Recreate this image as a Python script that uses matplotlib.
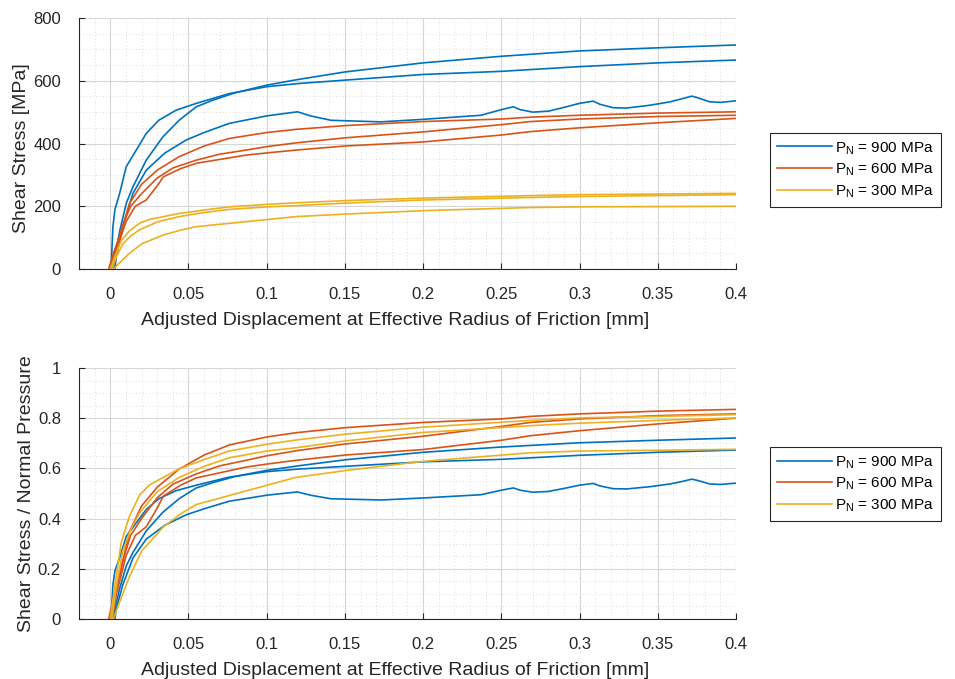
import matplotlib.pyplot as plt
from matplotlib.ticker import MultipleLocator, FormatStrFormatter

# curve data (x in mm, shear stress in MPa, ratio)
# P_N = 900 MPa
x_900a = [0.0005, 0.0017, 0.003, 0.006, 0.0102, 0.0166, 0.023, 0.031, 0.042, 0.055, 0.076, 0.1, 0.12, 0.15, 0.2, 0.25, 0.3, 0.35, 0.4]
tau_900a = [0, 135, 190, 241, 326, 379, 432, 474, 506, 528, 559, 581, 591, 602, 620, 630, 645, 657, 666]
mu_900a = [0, 0.136, 0.192, 0.243, 0.329, 0.383, 0.436, 0.479, 0.511, 0.533, 0.565, 0.587, 0.597, 0.608, 0.626, 0.636, 0.652, 0.664, 0.673]

x_900b = [0.002, 0.003, 0.006, 0.0102, 0.0145, 0.023, 0.0336, 0.044, 0.055, 0.0655, 0.08, 0.1, 0.12, 0.15, 0.2, 0.25, 0.3, 0.35, 0.4]
tau_900b = [0, 40, 120, 209, 262, 347, 421, 474, 517, 538, 562, 586, 604, 628, 657, 678, 695, 705, 714]
mu_900b = [0, 0.040, 0.121, 0.211, 0.265, 0.351, 0.425, 0.479, 0.522, 0.543, 0.568, 0.592, 0.610, 0.634, 0.664, 0.685, 0.702, 0.712, 0.721]

x_900c = [0.003, 0.0038, 0.008, 0.0145, 0.023, 0.035, 0.0485, 0.06, 0.076, 0.1, 0.115, 0.1197, 0.128, 0.141,
          0.173, 0.2, 0.237, 0.25, 0.2577, 0.262, 0.27, 0.28, 0.29, 0.30, 0.3087, 0.313, 0.3215, 0.33,
          0.345, 0.358, 0.365, 0.3718, 0.376, 0.383, 0.39, 0.4]
tau_900c = [0, 39, 135, 241, 315, 370, 411, 435, 464, 488, 498, 501, 488, 474,
            469, 477, 490, 508, 517, 508, 500, 503, 515, 528, 535, 525, 514, 513,
            522, 533, 542, 551, 545, 533, 531, 536]
mu_900c = [0, 0.039, 0.136, 0.243, 0.318, 0.374, 0.415, 0.439, 0.469, 0.493, 0.503, 0.506, 0.493, 0.479,
           0.474, 0.482, 0.495, 0.513, 0.522, 0.513, 0.505, 0.508, 0.520, 0.533, 0.540, 0.530, 0.519, 0.518,
           0.527, 0.538, 0.547, 0.557, 0.551, 0.538, 0.536, 0.541]

# P_N = 600 MPa
x_600a = [-0.001, 0.002, 0.006, 0.0123, 0.02, 0.03, 0.044, 0.06, 0.076, 0.1, 0.1187, 0.15, 0.2, 0.25, 0.2686, 0.3, 0.35, 0.4]
tau_600a = [0, 50, 103, 209, 270, 315, 358, 392, 416, 435, 445, 457, 470, 478, 484, 490, 497, 501]
mu_600a = [0, 0.083, 0.172, 0.348, 0.450, 0.525, 0.597, 0.653, 0.693, 0.725, 0.742, 0.762, 0.783, 0.797, 0.807, 0.817, 0.828, 0.835]

x_600b = [0.0, 0.003, 0.008, 0.013, 0.02, 0.03, 0.04, 0.055, 0.07, 0.0868, 0.1, 0.1187, 0.15, 0.2, 0.25, 0.2686, 0.3, 0.35, 0.4]
tau_600b = [0, 60, 140, 200, 240, 290, 322, 347, 366, 379, 390, 402, 418, 437, 460, 470, 478, 486, 490]
mu_600b = [0, 0.100, 0.233, 0.333, 0.400, 0.483, 0.537, 0.578, 0.610, 0.632, 0.650, 0.670, 0.697, 0.728, 0.767, 0.783, 0.797, 0.810, 0.817]

x_600c = [0.001, 0.004, 0.01, 0.016, 0.023, 0.03, 0.034, 0.045, 0.055, 0.0868, 0.1, 0.1187, 0.15, 0.2, 0.25, 0.2686, 0.3, 0.35, 0.4]
tau_600c = [0, 60, 150, 200, 220, 265, 294, 320, 337, 363, 370, 379, 392, 405, 427, 438, 450, 466, 480]
mu_600c = [0, 0.100, 0.250, 0.333, 0.367, 0.442, 0.490, 0.533, 0.562, 0.605, 0.617, 0.632, 0.653, 0.675, 0.712, 0.730, 0.750, 0.777, 0.800]

# P_N = 300 MPa
x_300a = [0.0, 0.003, 0.007, 0.012, 0.0187, 0.025, 0.044, 0.06, 0.076, 0.1, 0.1187, 0.15, 0.2, 0.2686, 0.3, 0.35, 0.4]
tau_300a = [0, 40, 90, 120, 146, 158, 177, 188, 198, 206, 211, 218, 226, 234, 237, 239, 241]
mu_300a = [0, 0.135, 0.304, 0.405, 0.493, 0.534, 0.598, 0.635, 0.669, 0.696, 0.713, 0.736, 0.764, 0.791, 0.801, 0.807, 0.814]

x_300b = [0.001, 0.004, 0.008, 0.013, 0.0187, 0.03, 0.044, 0.06, 0.076, 0.1, 0.1187, 0.15, 0.2, 0.2686, 0.3, 0.35, 0.4]
tau_300b = [0, 40, 80, 105, 125, 150, 167, 180, 190, 198, 202, 210, 220, 228, 231, 234, 237]
mu_300b = [0, 0.135, 0.270, 0.355, 0.422, 0.507, 0.564, 0.608, 0.642, 0.669, 0.682, 0.709, 0.743, 0.770, 0.780, 0.791, 0.801]

x_300c = [0.002, 0.006, 0.0123, 0.02, 0.0336, 0.045, 0.055, 0.0868, 0.1187, 0.15, 0.2, 0.2686, 0.3, 0.35, 0.4]
tau_300c = [0, 20, 50, 80, 108, 124, 135, 151, 167, 175, 186, 196, 198, 199, 200]
mu_300c = [0, 0.068, 0.169, 0.270, 0.365, 0.419, 0.456, 0.510, 0.564, 0.591, 0.628, 0.662, 0.669, 0.672, 0.676]

groups = [
    ('P$_{\\rm N}$ = 900 MPa', '#0072BD', [(x_900a, tau_900a, mu_900a), (x_900b, tau_900b, mu_900b), (x_900c, tau_900c, mu_900c)]),
    ('P$_{\\rm N}$ = 600 MPa', '#D95319', [(x_600a, tau_600a, mu_600a), (x_600b, tau_600b, mu_600b), (x_600c, tau_600c, mu_600c)]),
    ('P$_{\\rm N}$ = 300 MPa', '#EDB120', [(x_300a, tau_300a, mu_300a), (x_300b, tau_300b, mu_300b), (x_300c, tau_300c, mu_300c)]),
]

plt.rcParams['font.family'] = ['Liberation Sans', 'DejaVu Sans']
plt.rcParams['mathtext.fontset'] = 'custom'
plt.rcParams['mathtext.rm'] = 'Liberation Sans'

fig = plt.figure(figsize=(9.55, 6.79), dpi=100)
ax1 = fig.add_axes([0.0827, 0.6038, 0.688, 0.3697])
ax2 = fig.add_axes([0.0827, 0.0884, 0.688, 0.3697])

for label, col, curves in groups:
    for i, (x, tau, mu) in enumerate(curves):
        lab = label if i == 0 else None
        ax1.plot(x, tau, color=col, lw=1.2, label=lab)
        ax2.plot(x, mu, color=col, lw=1.2, label=lab)

def style(ax, ymax, ymajor, yminor, ylabel, leg_y, ylab_y):
    ax.set_xlim(-0.02, 0.4)
    ax.set_ylim(0, ymax)
    ax.xaxis.set_major_locator(MultipleLocator(0.05))
    ax.xaxis.set_minor_locator(MultipleLocator(0.01))
    ax.yaxis.set_major_locator(MultipleLocator(ymajor))
    ax.yaxis.set_minor_locator(MultipleLocator(yminor))
    ax.xaxis.set_major_formatter(FormatStrFormatter('%g'))
    ax.yaxis.set_major_formatter(FormatStrFormatter('%g'))
    ax.grid(True, which='major', color='#d6d6d6', lw=0.8)
    ax.grid(True, which='minor', color='#cfcfcf', lw=0.6, ls=(0, (1, 3)))
    ax.set_axisbelow(True)
    ax.spines['top'].set_visible(False)
    ax.spines['right'].set_visible(False)
    for s in ['left', 'bottom']:
        ax.spines[s].set_color('#262626')
        ax.spines[s].set_linewidth(0.8)
    ax.tick_params(which='major', direction='in', length=4, colors='#262626', labelsize=12)
    ax.tick_params(axis='x', which='major', pad=13)
    ax.tick_params(axis='y', which='major', pad=13)
    ax.tick_params(which='minor', length=0)
    ax.set_xlabel('Adjusted Displacement at Effective Radius of Friction [mm]', fontsize=14,
                  color='#262626', labelpad=7, x=0.481)
    ax.set_ylabel(ylabel, fontsize=14, color='#262626', labelpad=2, y=ylab_y)
    leg = ax.legend(loc='upper left', bbox_to_anchor=(1.052, leg_y), borderaxespad=0, frameon=True, fancybox=False,
                    edgecolor='#262626', fontsize=11, handlelength=3.6, borderpad=0.45, labelspacing=0.32,
                    handletextpad=0.2, framealpha=1)
    leg.get_frame().set_linewidth(0.8)

style(ax1, 800, 200, 50, 'Shear Stress [MPa]', 0.542, 0.48)
style(ax2, 1, 0.2, 0.05, 'Shear Stress / Normal Pressure', 0.685, 0.5)

fig.savefig('out.png', dpi=100)
